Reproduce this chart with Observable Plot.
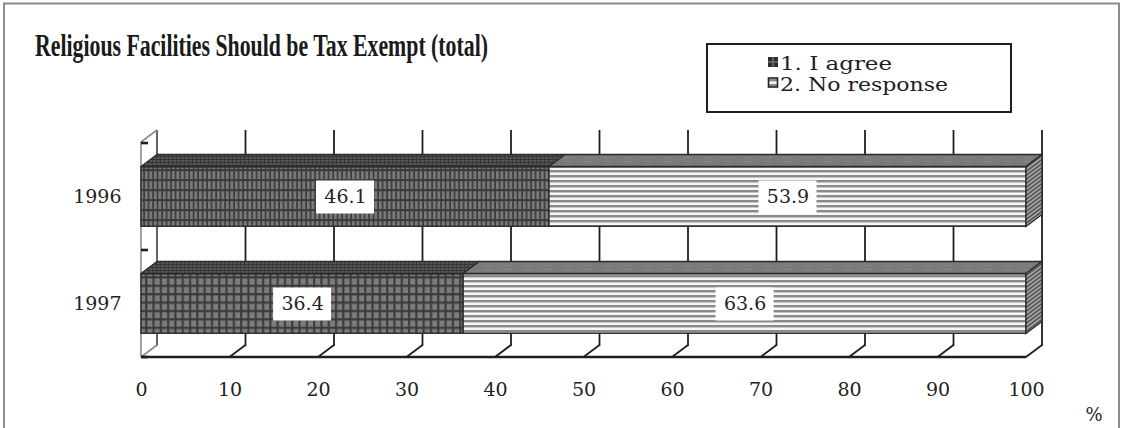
<!DOCTYPE html>
<html><head><meta charset="utf-8">
<script src="https://cdn.jsdelivr.net/npm/d3@7"></script>
<script src="https://cdn.jsdelivr.net/npm/@observablehq/plot@0.6"></script>
<style>
html,body{margin:0;padding:0;background:#fff;}
#wrap{position:relative;width:1123px;height:428px;overflow:hidden;background:#fff;}
#chart{position:absolute;left:0;top:0;}
#overlay{position:absolute;left:0;top:0;}
</style>
</head>
<body>
<svg width="0" height="0" style="position:absolute">
  <defs>
    <pattern id="agree1996" patternUnits="userSpaceOnUse" width="4.5" height="10">
      <rect width="4.5" height="10" fill="#3a3a3a"/>
      <rect x="0.9" y="1.2" width="2.9" height="7.9" fill="#7a7a7a"/>
    </pattern>
    <pattern id="agree1997" patternUnits="userSpaceOnUse" width="7.3" height="8.4">
      <rect width="7.3" height="8.4" fill="#3a3a3a"/>
      <rect x="1.3" y="1.3" width="5.2" height="6.2" fill="#7c7c7c"/>
    </pattern>
    <pattern id="noresp" patternUnits="userSpaceOnUse" width="10" height="5">
      <rect width="10" height="5" fill="#f6f6f6"/>
      <rect y="0" width="10" height="2" fill="#8a8a8a"/>
      <rect y="2" width="10" height="1" fill="#c6c6c6"/>
    </pattern>
    <pattern id="topagree" patternUnits="userSpaceOnUse" width="4" height="3">
      <rect width="4" height="3" fill="#555"/>
      <rect x="0" y="0" width="4" height="1" fill="#333"/>
      <rect x="0" y="0" width="1" height="3" fill="#3a3a3a"/>
    </pattern>
    <pattern id="topnoresp" patternUnits="userSpaceOnUse" width="20" height="4">
      <rect width="20" height="4" fill="#7a7a7a"/>
      <rect x="3" y="1" width="9" height="1" fill="#868686"/>
    </pattern>
    <pattern id="side" patternUnits="userSpaceOnUse" width="10" height="4" patternTransform="skewY(-36.87)">
      <rect width="10" height="4" fill="#a5a5a5"/>
      <rect width="10" height="2" fill="#555"/>
    </pattern>
  </defs>
</svg>
<div id="wrap">
  <div id="chart"></div>
  <svg id="overlay" width="1123" height="428"></svg>
</div>
<script>
// ---- data ----
const years = ["1996", "1997"];
const agree = [46.1, 36.4];
const noResponse = [53.9, 63.6];
const seriesNames = ["1. I agree", "2. No response"];
const xTicks = [0, 10, 20, 30, 40, 50, 60, 70, 80, 90, 100];
const titleText = "Religious Facilities Should be Tax Exempt (total)";
const unitLabel = "%";

// ---- table built from the arrays ----
const rows = [];
years.forEach((yr, i) => {
  let acc = 0;
  [agree[i], noResponse[i]].forEach((v, j) => {
    rows.push({year: yr, series: seriesNames[j], key: j, value: v, x1: acc, x2: acc + v});
    acc += v;
  });
});
const xMax = d3.max(rows, d => d.x2);

const NS = "http://www.w3.org/2000/svg";
function el(tag, attrs) {
  const e = document.createElementNS(NS, tag);
  for (const k in attrs) e.setAttribute(k, attrs[k]);
  return e;
}
const DX = 16, DY = -12, BAR_H = 60;

function backWall(index, scales, values, dim) {
  const {x, y} = scales;
  const g = el("g", {});
  const top = dim.marginTop, bottom = dim.height - dim.marginBottom;
  const left = x(0);
  for (const t of xTicks) {
    const px = x(t);
    g.appendChild(el("line", {x1: px + DX, y1: top + DY, x2: px + DX, y2: bottom + DY + 1,
      stroke: t === 0 ? "#555" : "#1e1e1e", "stroke-width": 1.8}));
    if (t !== 0) g.appendChild(el("line", {x1: px, y1: bottom, x2: px + DX, y2: bottom + DY,
      stroke: "#1e1e1e", "stroke-width": 1.8}));
  }
  const wall = {stroke: "#8c8c8c", "stroke-width": 1.6};
  g.appendChild(el("line", {x1: left, y1: top, x2: left, y2: bottom, ...wall}));
  g.appendChild(el("line", {x1: left, y1: top, x2: left + DX, y2: top + DY, ...wall}));
  g.appendChild(el("line", {x1: left, y1: bottom, x2: left + DX, y2: bottom + DY, ...wall}));
  g.appendChild(el("line", {x1: left, y1: bottom, x2: x(xMax), y2: bottom, stroke: "#1e1e1e", "stroke-width": 2.4}));
  const bw = y.bandwidth();
  const bounds = years.map(v => y(v)).concat([y(years[years.length - 1]) + bw]);
  for (const b of bounds) g.appendChild(el("line", {x1: left, y1: b, x2: left + 7, y2: b, stroke: "#1e1e1e", "stroke-width": 2.6}));
  return g;
}

function barFaces(index, scales) {
  const {x, y} = scales;
  const g = el("g", {});
  const inset = (y.bandwidth() - BAR_H) / 2;
  for (const d of rows) {
    const xa = x(d.x1), xb = x(d.x2), yt = y(d.year) + inset, yb = yt + BAR_H;
    const pts = [[xa, yt], [xb, yt], [xb + DX, yt + DY], [xa + DX, yt + DY]];
    g.appendChild(el("polygon", {points: pts.map(p => p.join(",")).join(" "),
      fill: d.key === 0 ? "url(#topagree)" : "url(#topnoresp)", stroke: "#2a2a2a", "stroke-width": 1.3, "stroke-linejoin": "round"}));
    if (d.x2 === xMax) {
      const side = [[xb, yt], [xb + DX, yt + DY], [xb + DX, yb + DY], [xb, yb]];
      g.appendChild(el("polygon", {points: side.map(p => p.join(",")).join(" "),
        fill: "url(#side)", stroke: "#2a2a2a", "stroke-width": 1.3}));
    }
  }
  return g;
}

function labelBoxes(index, scales) {
  const {x, y} = scales;
  const g = el("g", {});
  const bw = y.bandwidth();
  for (const d of rows) {
    const cx = (x(d.x1) + x(d.x2)) / 2, cy = y(d.year) + bw / 2;
    g.appendChild(el("rect", {x: cx - 29, y: cy - 16, width: 58, height: 33, fill: "#fff"}));
  }
  return g;
}

const chart = Plot.plot({
  width: 1123,
  height: 428,
  marginLeft: 141,
  marginRight: 97,
  marginTop: 142,
  marginBottom: 71,
  style: {fontFamily: "'DejaVu Serif', serif", fontSize: "19px", color: "#222", background: "transparent", overflow: "visible"},
  x: {domain: [0, 100], ticks: xTicks, tickFormat: d => String(d), tickSize: 0, tickPadding: 25, label: null},
  y: {domain: years, padding: 0, tickSize: 0, tickPadding: 20, label: null},
  color: {type: "identity"},
  marks: [
    backWall,
    Plot.barX(rows, {
      x1: "x1", x2: "x2", y: "year",
      fill: d => d.key === 0 ? `url(#agree${d.year})` : "url(#noresp)",
      insetTop: 23.75, insetBottom: 23.75,
      stroke: "#2a2a2a", strokeWidth: 1.4
    }),
    barFaces,
    labelBoxes,
    Plot.text(rows, {x: d => (d.x1 + d.x2) / 2, y: "year", text: d => d.value.toFixed(1), fontSize: 19, fill: "#222"})
  ]
});
document.getElementById("chart").appendChild(chart);

// ---- overlay: frame, title, legend, unit ----
const ov = document.getElementById("overlay");
ov.appendChild(el("rect", {x: 4, y: 3.5, width: 1115, height: 500, fill: "none", stroke: "#8c8c8c", "stroke-width": 2}));
const title = el("text", {x: 35, y: 56, "font-family": "'Liberation Serif', 'Times New Roman', serif", "font-weight": "bold",
  "font-size": 32, fill: "#1a1a1a", textLength: 453, lengthAdjust: "spacingAndGlyphs"});
title.textContent = titleText;
ov.appendChild(title);

const lg = el("g", {transform: "translate(707,44)"});
lg.appendChild(el("rect", {x: 0, y: 0, width: 304, height: 68, fill: "#fff", stroke: "#1e1e1e", "stroke-width": 2}));
// swatch 1
lg.appendChild(el("rect", {x: 61, y: 13, width: 10, height: 10, fill: "#2e2e2e"}));
lg.appendChild(el("line", {x1: 61, y1: 18, x2: 71, y2: 18, stroke: "#8a8a8a", "stroke-width": 1}));
lg.appendChild(el("line", {x1: 66, y1: 13, x2: 66, y2: 23, stroke: "#8a8a8a", "stroke-width": 1}));
// swatch 2
lg.appendChild(el("rect", {x: 61.5, y: 34, width: 9, height: 9, fill: "url(#noresp)", stroke: "#222", "stroke-width": 1.6}));
const legendWidths = [112, 168];
seriesNames.forEach((s, i) => {
  const t = el("text", {x: 73, y: 25.5 + i * 21.5, "font-family": "'DejaVu Serif', serif", "font-size": 18, fill: "#1e1e1e",
    textLength: legendWidths[i], lengthAdjust: "spacingAndGlyphs"});
  t.textContent = s;
  lg.appendChild(t);
});
ov.appendChild(lg);

const pct = el("text", {x: 1094, y: 421, "text-anchor": "middle", "font-family": "'DejaVu Serif', serif", "font-size": 18, fill: "#222"});
pct.textContent = unitLabel;
ov.appendChild(pct);
</script>
</body></html>
